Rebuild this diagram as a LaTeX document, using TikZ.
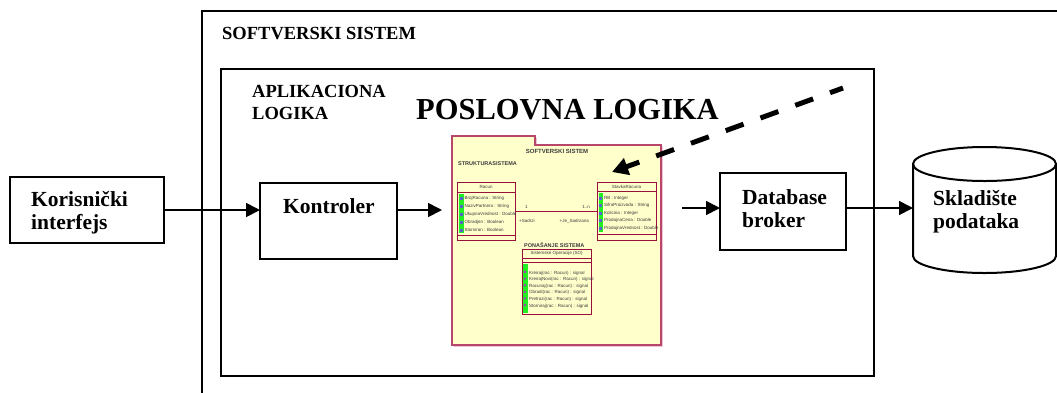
\documentclass[tikz,border=0pt]{standalone}
\usepackage{fontspec}
\setmainfont{Liberation Serif}
\newfontfamily\umlfont{Liberation Sans}
\usetikzlibrary{arrows.meta}

\definecolor{pkgfill}{HTML}{FFFFCC}
\definecolor{pkgline}{HTML}{B8456A}
\definecolor{pkgshadow}{HTML}{E3A6B8}
\definecolor{clsline}{HTML}{99103A}
\definecolor{barGreen}{HTML}{22EE22}
\definecolor{umlgray}{HTML}{3A3A3A}
\definecolor{attrIcon}{HTML}{5566CC}
\definecolor{opIcon}{HTML}{AA33BB}

\begin{document}
\begin{tikzpicture}[x=1pt,y=-1pt,
  box/.style={draw, line width=2pt, fill=white, inner sep=0pt, outer sep=0pt},
  lbl/.style={font=\bfseries\fontsize{21.5}{24}\selectfont, inner sep=0pt, anchor=base west},
  ttl/.style={font=\bfseries\fontsize{18.5}{21}\selectfont, inner sep=0pt, anchor=base west},
  flow/.style={line width=1.6pt, -{Triangle[length=14pt,width=14pt]}},
  umlclass/.style={draw=clsline, line width=1pt, fill=pkgfill, inner sep=0pt, outer sep=0pt},
  umltxt/.style={font=\umlfont\fontsize{4.5}{5}\selectfont, text=umlgray, inner sep=0pt},
  umlhead/.style={font=\umlfont\bfseries\fontsize{5.5}{6}\selectfont, text=umlgray, inner sep=0pt},
  compline/.style={draw=clsline, line width=1pt}
]
\useasboundingbox (0,0) rectangle (1057,392);
\clip (0,0) rectangle (1057,392);

% outer system frame (runs off the right and bottom)
\draw[line width=2pt] (1080,11) -| (202,410);
\node[ttl] (systitle) at (222,39) {SOFTVERSKI SISTEM};

% application logic frame
\draw[line width=2pt] (221,69) rectangle (874,376);
\node[ttl] (applogic1) at (252,97) {APLIKACIONA};
\node[ttl] (applogic2) at (252,119) {LOGIKA};
\node[font=\bfseries\fontsize{30.5}{34}\selectfont, inner sep=0pt, anchor=base west] (bizlogic) at (416,119) {POSLOVNA LOGIKA};

% main blocks
\node[box, minimum width=154pt, minimum height=66pt] (ki) at (87,210) {};
\node[lbl] (kiA) at (31,206) {Korisnički};
\node[lbl] (kiB) at (31,229) {interfejs};

\node[box, minimum width=137pt, minimum height=76.5pt] (kon) at (328.5,220.75) {};
\node[lbl] (konA) at (283,213) {Kontroler};

\node[box, minimum width=126pt, minimum height=77pt] (db) at (783,211.5) {};
\node[lbl] (dbA) at (742,204) {Database};
\node[lbl] (dbB) at (742,227) {broker};

% data store cylinder
\node[inner sep=0pt, outer sep=0pt, minimum width=143pt, minimum height=127pt] (store) at (984.5,210) {};
\draw[line width=2pt, fill=white] (913,164) -- (913,256)
  arc[start angle=180, end angle=360, x radius=71.5pt, y radius=17pt] -- (1056,164);
\draw[line width=2pt] (984.5,164) ellipse [x radius=71.5pt, y radius=17pt];
\node[lbl] (stA) at (933,205) {Skladište};
\node[lbl] (stB) at (933,228) {podataka};

% business logic package
\fill[pkgshadow] (453.5,137.5) -- (536.5,137.5) -- (536.5,146.5) -- (662.5,146.5) -- (662.5,346.5) -- (453.5,346.5) -- cycle;
\draw[draw=pkgline, line width=1.2pt, fill=pkgfill] (452,136) -- (535,136) -- (535,145) -- (661,145) -- (661,345) -- (452,345) -- cycle;
\node[font=\umlfont\bfseries\fontsize{6}{7}\selectfont, text=umlgray, inner sep=0pt] (pkgtitle) at (557,151) {SOFTVERSKI SISTEM};
\node[umlhead, anchor=west] (structure) at (458,164) {STRUKTURASISTEMA};
\node[umlhead, anchor=west] (behaviour) at (524,245) {PONAŠANJE SISTEMA};

% class Racun
\node[umlclass, minimum width=58pt, minimum height=58pt] (racun) at (486,211) {};
\draw[compline] (457,192) -- (515,192);
\draw[compline] (457,235) -- (515,235);
\fill[barGreen] (459,193.5) rectangle (463.5,233);
\node[umltxt] (racunName) at (486,187) {Racun};
\foreach \txt [count=\i from 0] in {BrojRacuna : String, NazivPartnera : String, UkupnaVrednost : Double, Obradjen : Boolean, Storniran : Boolean} {
  \fill[attrIcon] (459.5,{196.5+8*\i}) rectangle ++(3,3);
  \node[umltxt, anchor=west] (ra\i) at (464.5,{198+8*\i}) {\txt};
}

% class StavkaRacuna
\node[umlclass, minimum width=59pt, minimum height=58pt] (stavka) at (626.5,211) {};
\draw[compline] (597,191) -- (656,191);
\draw[compline] (597,234) -- (656,234);
\fill[barGreen] (598.5,193) rectangle (603,232);
\node[umltxt] (stavkaName) at (626.5,187) {StavkaRacuna};
\foreach \txt [count=\i from 0] in {RB : Integer, SifraProizvoda : String, Kolicina : Integer, ProdajnaCena : Double, ProdajnaVrednost : Double} {
  \fill[attrIcon] (599,{196.5+7.5*\i}) rectangle ++(3,3);
  \node[umltxt, anchor=west] (sa\i) at (604,{198+7.5*\i}) {\txt};
}

% association between the classes
\draw[draw=clsline, line width=0.8pt] (racun) -- (stavka);
\node[umltxt, anchor=west] (mult1) at (525,206.5) {1};
\node[umltxt, anchor=east] (multN) at (590,206.5) {1..n};
\node[umltxt, anchor=west] (roleA) at (519,221) {+Sadrzi};
\node[umltxt, anchor=east] (roleB) at (589,221) {+Je\_Sadrzana};

% class Sistemske Operacije
\node[umlclass, minimum width=69pt, minimum height=65pt] (so) at (556.5,281.5) {};
\draw[compline] (522,258) -- (591,258);
\draw[compline] (522,262) -- (591,262);
\fill[barGreen] (523,264) rectangle (527.5,313);
\node[umltxt] (soName) at (556.5,253.5) {Sistemske Operacije (SO)};
\foreach \txt [count=\i from 0] in {Kreiraj(rac : Racun) : signal, KreirajNovi(rac : Racun) : signal, Racunaj(rac : Racun) : signal, Obradi(rac : Racun) : signal, Pretrazi(rac : Racun) : signal, Storniraj(rac : Racun) : signal} {
  \fill[opIcon] (525,{272+6.6*\i}) circle (1.3pt);
  \node[umltxt, anchor=west] (op\i) at (529,{273+6.6*\i}) {\txt};
}

% flow connectors
\coordinate (pkgIn) at (442,210);
\coordinate (pkgOut) at (682,208);
\draw[flow] (ki.east) -- (kon.west |- ki.east);
\draw[flow] (kon.east |- ki.east) -- (pkgIn);
\draw[flow] (pkgOut) -- (db.west |- pkgOut);
\draw[flow] (db.east |- pkgOut) -- (store.west |- pkgOut);

% dashed pointer into the package
\coordinate (dashStart) at (843,88);
\coordinate (dashTip) at (612,172);
\draw[line width=5pt, dash pattern=on 19pt off 18pt, dash phase=5pt,
  {Triangle[length=16pt,width=17pt]}-] (dashTip) -- (dashStart);
\end{tikzpicture}
\end{document}
